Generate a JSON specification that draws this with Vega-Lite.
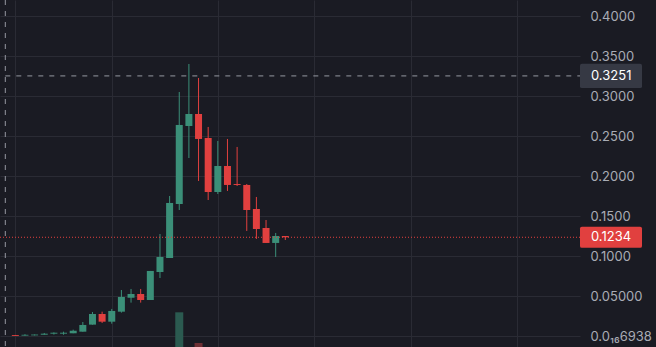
{
  "$schema": "https://vega.github.io/schema/vega-lite/v6.json",
  "width": 580,
  "height": 347,
  "autosize": "none",
  "padding": {"left": 0, "top": 0, "right": 76, "bottom": 0},
  "background": "#1a1b23",
  "config": {
    "view": {"stroke": null},
    "font": "Inter",
    "axis": {"gridColor": "#2a2b34", "gridWidth": 1},
    "scale": {"continuousPadding": 0}
  },
  "datasets": {
    "candles": [
      {"i": 0, "o": 0.0012, "h": 0.0013, "l": 0.0001, "c": 0.0001, "v": 0},
      {"i": 1, "o": 0.0005, "h": 0.0022, "l": 0.0003, "c": 0.0015, "v": 0},
      {"i": 2, "o": 0.0008, "h": 0.0019, "l": 0.0007, "c": 0.0018, "v": 0},
      {"i": 3, "o": 0.0016, "h": 0.0038, "l": 0.0016, "c": 0.0029, "v": 0},
      {"i": 4, "o": 0.0029, "h": 0.0045, "l": 0.0018, "c": 0.0041, "v": 0},
      {"i": 5, "o": 0.0029, "h": 0.0054, "l": 0.0016, "c": 0.0041, "v": 0},
      {"i": 6, "o": 0.0034, "h": 0.0079, "l": 0.0034, "c": 0.0066, "v": 0},
      {"i": 7, "o": 0.0054, "h": 0.0175, "l": 0.0054, "c": 0.0138, "v": 0},
      {"i": 8, "o": 0.0142, "h": 0.0300, "l": 0.0142, "c": 0.0275, "v": 0},
      {"i": 9, "o": 0.0275, "h": 0.0304, "l": 0.0163, "c": 0.0179, "v": 0},
      {"i": 10, "o": 0.0179, "h": 0.0338, "l": 0.0154, "c": 0.0313, "v": 0},
      {"i": 11, "o": 0.0304, "h": 0.0575, "l": 0.0292, "c": 0.0488, "v": 0},
      {"i": 12, "o": 0.0479, "h": 0.0588, "l": 0.0417, "c": 0.0525, "v": 0},
      {"i": 13, "o": 0.0525, "h": 0.0588, "l": 0.0417, "c": 0.0450, "v": 0},
      {"i": 14, "o": 0.0450, "h": 0.0813, "l": 0.0450, "c": 0.0813, "v": 0},
      {"i": 15, "o": 0.0800, "h": 0.1275, "l": 0.0725, "c": 0.0988, "v": 0},
      {"i": 16, "o": 0.0975, "h": 0.1750, "l": 0.0975, "c": 0.1663, "v": 0},
      {"i": 17, "o": 0.1650, "h": 0.3050, "l": 0.1575, "c": 0.2638, "v": 10},
      {"i": 18, "o": 0.2625, "h": 0.3400, "l": 0.2225, "c": 0.2775, "v": 0},
      {"i": 19, "o": 0.2775, "h": 0.3225, "l": 0.1938, "c": 0.2463, "v": 1.15},
      {"i": 20, "o": 0.2475, "h": 0.2613, "l": 0.1700, "c": 0.1800, "v": 0},
      {"i": 21, "o": 0.1800, "h": 0.2438, "l": 0.1775, "c": 0.2125, "v": 0},
      {"i": 22, "o": 0.2125, "h": 0.2463, "l": 0.1813, "c": 0.1888, "v": 0},
      {"i": 23, "o": 0.1900, "h": 0.2363, "l": 0.1875, "c": 0.1888, "v": 0},
      {"i": 24, "o": 0.1888, "h": 0.1900, "l": 0.1313, "c": 0.1575, "v": 0},
      {"i": 25, "o": 0.1588, "h": 0.1738, "l": 0.1213, "c": 0.1338, "v": 0},
      {"i": 26, "o": 0.1350, "h": 0.1450, "l": 0.1163, "c": 0.1163, "v": 0},
      {"i": 27, "o": 0.1163, "h": 0.1288, "l": 0.0988, "c": 0.1250, "v": 0},
      {"i": 28, "o": 0.1250, "h": 0.1250, "l": 0.1200, "c": 0.1234, "v": 0}
    ],
    "crosshair": [{"x": -1.04, "price": 0.3251, "label": "0.3251"}],
    "last": [{"price": 0.1234, "label": "0.1234"}]
  },
  "layer": [
    {
      "data": {"name": "candles"},
      "mark": {"type": "bar", "size": 8},
      "encoding": {
        "x": {"field": "i", "type": "quantitative", "scale": {"domain": [-1.59, 58.56], "nice": false, "zero": false, "padding": 0},
              "axis": {"values": [0, 10, 21, 31, 41, 52], "labels": false, "ticks": false, "domain": false, "title": null, "grid": true}},
        "y": {"field": "v", "type": "quantitative", "scale": {"domain": [0, 100], "nice": false}, "axis": null},
        "y2": {"datum": 0},
        "color": {"condition": {"test": "datum.i == 19", "value": "#6e2f34"}, "value": "#2b5a50"}
      }
    },
    {
      "layer": [
        {
          "data": {"name": "candles"},
          "mark": {"type": "rule", "strokeWidth": 1},
          "encoding": {
            "x": {"field": "i", "type": "quantitative", "scale": {"domain": [-1.59, 58.56], "nice": false, "zero": false, "padding": 0}},
            "y": {"field": "l", "type": "quantitative", "scale": {"domain": [-0.01375, 0.42], "nice": false, "zero": false},
                  "axis": {"orient": "right", "values": [0, 0.05, 0.1, 0.15, 0.2, 0.25, 0.3, 0.35, 0.4],
                           "labelExpr": "datum.value == 0 ? '0.0₁₆6938' : (datum.value < 0.1 ? format(datum.value, '.5f') : format(datum.value, '.4f'))",
                           "labelColor": "#a9acb5", "labelFontSize": 13, "labelPadding": 10, "ticks": false, "tickSize": 0,
                           "domain": false, "title": null, "grid": true, "labelAlign": "left"}},
            "y2": {"field": "h"},
            "color": {"condition": {"test": "datum.c >= datum.o", "value": "#3b8f78"}, "value": "#e1403f"}
          }
        },
        {
          "data": {"name": "candles"},
          "mark": {"type": "bar", "size": 7},
          "encoding": {
            "x": {"field": "i", "type": "quantitative", "scale": {"domain": [-1.59, 58.56], "nice": false, "zero": false, "padding": 0}},
            "y": {"field": "o", "type": "quantitative", "scale": {"domain": [-0.01375, 0.42], "nice": false, "zero": false}},
            "y2": {"field": "c"},
            "color": {"condition": {"test": "datum.c >= datum.o", "value": "#3b8f78"}, "value": "#e1403f"}
          }
        },
        {
          "data": {"name": "last"},
          "mark": {"type": "rule", "color": "#e1403f", "strokeWidth": 1, "strokeDash": [1, 2]},
          "encoding": {
            "y": {"field": "price", "type": "quantitative", "scale": {"domain": [-0.01375, 0.42], "nice": false, "zero": false}}
          }
        },
        {
          "data": {"name": "crosshair"},
          "mark": {"type": "rule", "color": "#9598a1", "strokeWidth": 1, "strokeDash": [5, 6]},
          "encoding": {
            "x": {"field": "x", "type": "quantitative", "scale": {"domain": [-1.59, 58.56], "nice": false, "zero": false, "padding": 0}}
          }
        },
        {
          "data": {"name": "crosshair"},
          "mark": {"type": "rule", "color": "#9598a1", "strokeWidth": 1, "strokeDash": [5, 6]},
          "encoding": {
            "x": {"field": "x", "type": "quantitative", "scale": {"domain": [-1.59, 58.56], "nice": false, "zero": false, "padding": 0}},
            "x2": {"value": "width"},
            "y": {"field": "price", "type": "quantitative", "scale": {"domain": [-0.01375, 0.42], "nice": false, "zero": false}}
          }
        },
        {
          "data": {"name": "crosshair"},
          "mark": {"type": "point", "filled": true, "opacity": 1, "strokeWidth": 0, "size": 3844, "xOffset": 31, "clip": false,
                   "shape": "M-0.94,-0.39 L0.94,-0.39 Q1,-0.39 1,-0.33 L1,0.33 Q1,0.39 0.94,0.39 L-0.94,0.39 Q-1,0.39 -1,0.33 L-1,-0.33 Q-1,-0.39 -0.94,-0.39 Z",
                   "color": "#363944"},
          "encoding": {
            "x": {"value": "width"},
            "y": {"field": "price", "type": "quantitative", "scale": {"domain": [-0.01375, 0.42], "nice": false, "zero": false}}
          }
        },
        {
          "data": {"name": "last"},
          "mark": {"type": "point", "filled": true, "opacity": 1, "strokeWidth": 0, "size": 3844, "xOffset": 31, "clip": false,
                   "shape": "M-0.94,-0.34 L0.94,-0.34 Q1,-0.34 1,-0.28 L1,0.28 Q1,0.34 0.94,0.34 L-0.94,0.34 Q-1,0.34 -1,0.28 L-1,-0.28 Q-1,-0.34 -0.94,-0.34 Z",
                   "color": "#e1403f"},
          "encoding": {
            "x": {"value": "width"},
            "y": {"field": "price", "type": "quantitative", "scale": {"domain": [-0.01375, 0.42], "nice": false, "zero": false}}
          }
        },
        {
          "data": {"name": "crosshair"},
          "mark": {"type": "text", "align": "left", "baseline": "middle", "dx": 11, "fontSize": 13, "color": "#ffffff", "clip": false},
          "encoding": {
            "x": {"value": "width"},
            "y": {"field": "price", "type": "quantitative", "scale": {"domain": [-0.01375, 0.42], "nice": false, "zero": false}},
            "text": {"field": "label"}
          }
        },
        {
          "data": {"name": "last"},
          "mark": {"type": "text", "align": "left", "baseline": "middle", "dx": 11, "fontSize": 13, "color": "#ffffff", "clip": false},
          "encoding": {
            "x": {"value": "width"},
            "y": {"field": "price", "type": "quantitative", "scale": {"domain": [-0.01375, 0.42], "nice": false, "zero": false}},
            "text": {"field": "label"}
          }
        }
      ]
    }
  ],
  "resolve": {"scale": {"y": "independent"}, "axis": {"y": "independent"}}
}
